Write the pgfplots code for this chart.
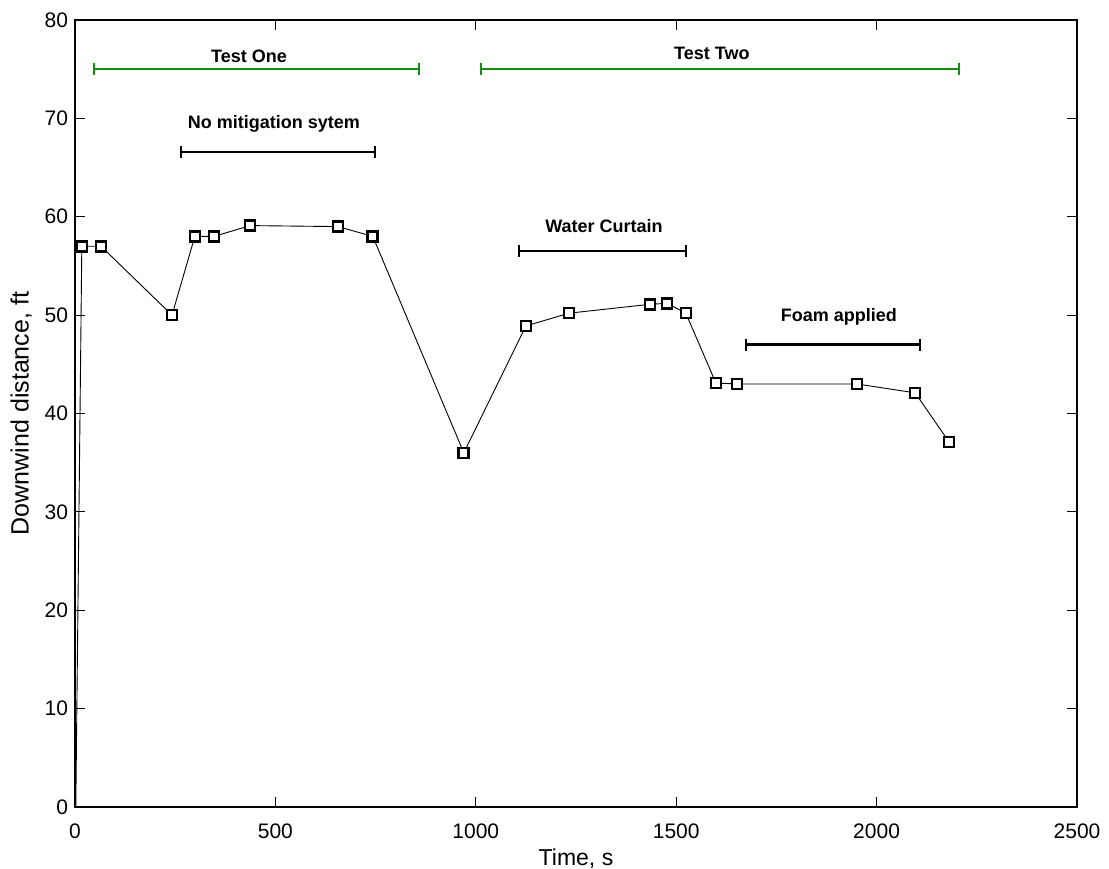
\documentclass[border=0pt]{standalone}
\usepackage{pgfplots}
\pgfplotsset{compat=1.18}
\usepackage{fontspec}
\setmainfont{Liberation Sans}
\definecolor{mgreen}{RGB}{20,140,20}
\begin{document}
\begin{tikzpicture}
\begin{axis}[
  scale only axis,
  width=501pt, height=393.5pt,
  xmin=0, xmax=2500, ymin=0, ymax=80,
  xtick={0,500,...,2500}, ytick={0,10,...,80},
  tick align=inside, major tick length=5pt,
  axis line style={line width=0.6pt},
  tick style={line width=0.5pt, black},
  /pgf/number format/assume math mode=true,
  /pgf/number format/1000 sep={},
  ticklabel style={font=\fontsize{10.5}{12}\selectfont},
  xticklabel style={yshift=-5pt},
  xlabel={Time, s}, ylabel={Downwind distance, ft},
  xlabel style={font=\fontsize{11.5}{13}\selectfont, yshift=2pt},
  ylabel style={font=\fontsize{12.5}{14}\selectfont, yshift=-0.5pt},
  clip=false,
]
\addplot[black, line width=0.45pt, mark=square*, mark phase=2,
  mark options={solid, fill=white, draw=black, line width=1.3pt}, mark size=2.5pt]
coordinates {
(2,0) (17,57) (65,57) (242,50) (299,58) (347,58) (437,59.1) (656,59) (743,58)
(970,36) (1125,48.9) (1233,50.2) (1435,51.1) (1477,51.2) (1524,50.2)
(1599,43.1) (1652,43) (1951,43) (2096,42.1) (2181,37.1)
};
% annotation bars
\addplot[mgreen, line width=1.2pt, mark=|, mark size=3pt, mark options={solid, line width=1.2pt}]
  coordinates {(47,75) (858,75)};
\addplot[mgreen, line width=1.2pt, mark=|, mark size=3pt, mark options={solid, line width=1.2pt}]
  coordinates {(1013,75) (2206,75)};
\addplot[black, line width=1.2pt, mark=|, mark size=3pt, mark options={solid, line width=1.2pt}]
  coordinates {(264,66.6) (748,66.6)};
\addplot[black, line width=1.2pt, mark=|, mark size=3pt, mark options={solid, line width=1.2pt}]
  coordinates {(1108,56.5) (1524,56.5)};
\addplot[black, line width=1.2pt, mark=|, mark size=3pt, mark options={solid, line width=1.2pt}]
  coordinates {(1674,47) (2108,47)};
\node[font=\bfseries\fontsize{9}{10}\selectfont] at (axis cs:434,76.3) {Test One};
\node[font=\bfseries\fontsize{9}{10}\selectfont] at (axis cs:1589,76.6) {Test Two};
\node[font=\bfseries\fontsize{9}{10}\selectfont] at (axis cs:496,69.4) {No mitigation sytem};
\node[font=\bfseries\fontsize{9}{10}\selectfont] at (axis cs:1320,59.1) {Water Curtain};
\node[font=\bfseries\fontsize{9}{10}\selectfont] at (axis cs:1906,49.8) {Foam applied};
\end{axis}
\pgfresetboundingbox
\path ([shift={(-37.5pt,-31pt)}]current axis.south west) rectangle ([shift={(16pt,10pt)}]current axis.north east);
\end{tikzpicture}
\end{document}
